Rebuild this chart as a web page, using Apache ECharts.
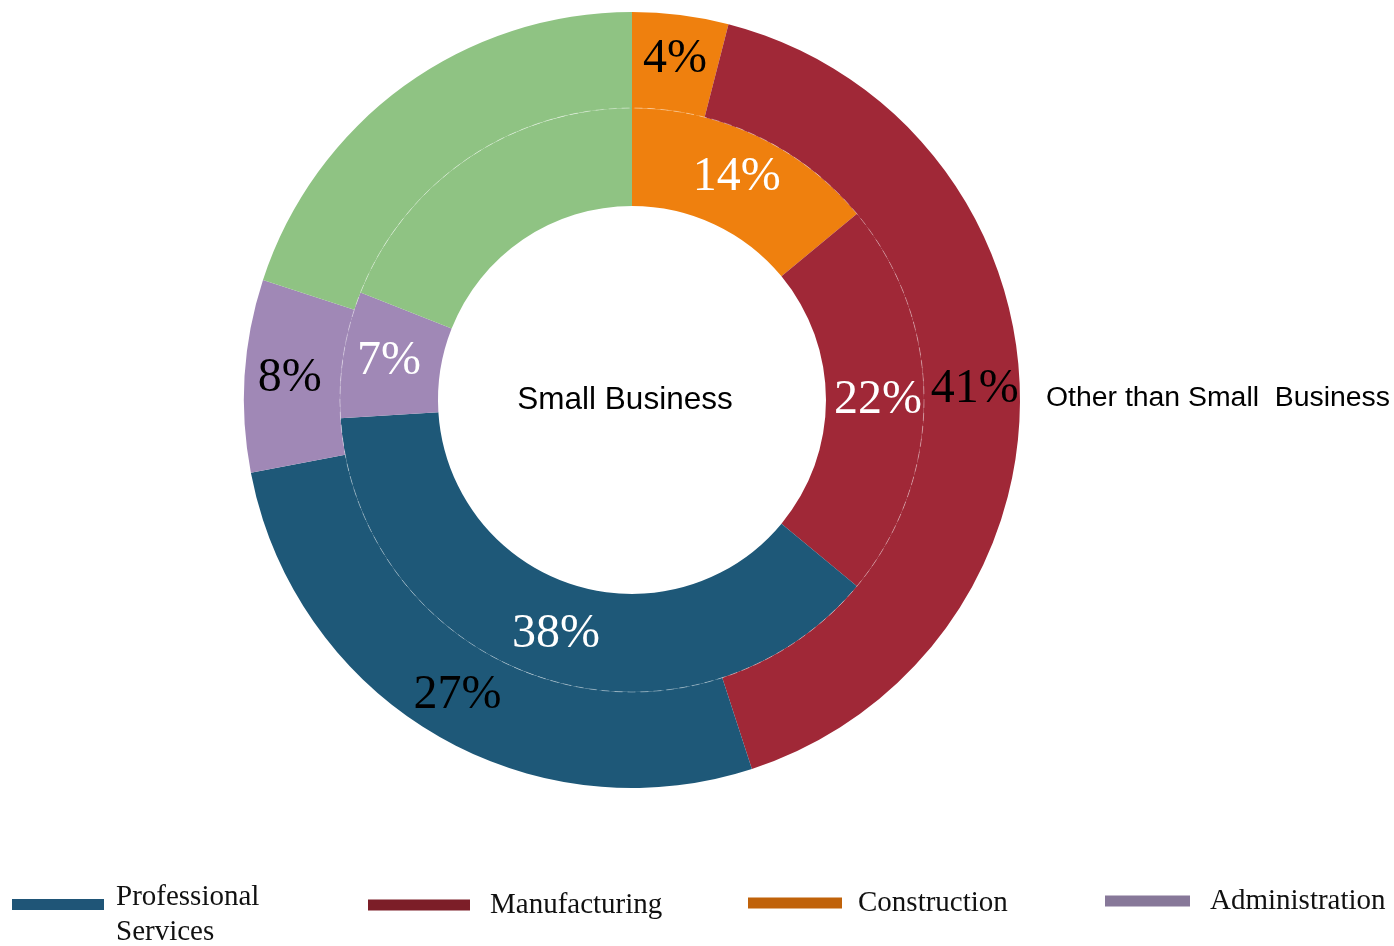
<!DOCTYPE html>
<html>
<head>
<meta charset="utf-8">
<title>Contract share by sector</title>
<script src="https://cdn.jsdelivr.net/npm/echarts@6/dist/echarts.min.js"></script>
<style>
  html, body { margin: 0; padding: 0; background: #ffffff; }
  #chart { width: 1394px; height: 946px; }
</style>
</head>
<body>
<div id="chart"></div>
<script>
// Sector categories, in drawing order (clockwise from 12 o'clock)
const categories = ['Construction', 'Manufacturing', 'Professional Services', 'Administration', 'Other'];

// Percent share per sector
const smallBusiness = [14, 22, 38, 7, 19];          // inner ring
const otherThanSmallBusiness = [4, 41, 27, 8, 20];  // outer ring

// Sectors listed in the legend, in legend order
const legendItems = ['Professional Services', 'Manufacturing', 'Construction', 'Administration'];

const sliceColors = {
  'Construction': '#EF800E',
  'Manufacturing': '#A02837',
  'Professional Services': '#1E5878',
  'Administration': '#A088B6',
  'Other': '#8FC383'
};
const legendColors = {
  'Professional Services': '#1F5577',
  'Manufacturing': '#7C1E28',
  'Construction': '#C0620A',
  'Administration': '#877899'
};

const serif = '"Liberation Serif", "Times New Roman", serif';
const sans = '"Liberation Sans", Arial, sans-serif';
const CENTER = [632, 400];

function ringData(values, labelColor) {
  return categories.map((name, i) => ({
    name: name,
    value: values[i],
    itemStyle: { color: sliceColors[name] },
    label: name === 'Other' ? { show: false } : { color: labelColor }
  }));
}

function ringSeries(seriesName, values, radius, labelColor) {
  return {
    type: 'pie',
    name: seriesName,
    center: CENTER,
    radius: radius,
    startAngle: 90,
    clockwise: true,
    silent: true,
    itemStyle: { borderWidth: 0 },
    label: {
      show: true,
      position: 'inside',
      formatter: '{c}%',
      fontFamily: serif,
      fontSize: 48,
      color: labelColor
    },
    labelLine: { show: false },
    emphasis: { disabled: true },
    data: ringData(values, labelColor)
  };
}

// one legend block per sector so each sits at its own spot along the bottom
const legendLayout = {
  'Professional Services': { left: 12, top: 859, itemWidth: 92, gap: 7 },
  'Manufacturing': { left: 368, top: 890, itemWidth: 102, gap: 15 },
  'Construction': { left: 748, top: 888, itemWidth: 94, gap: 11 },
  'Administration': { left: 1105, top: 886, itemWidth: 85, gap: 15 }
};

const legends = legendItems.map(name => {
  const lay = legendLayout[name];
  const multi = name === 'Professional Services';
  return {
    left: lay.left,
    top: lay.top,
    padding: 0,
    orient: 'horizontal',
    icon: 'rect',
    itemWidth: lay.itemWidth,
    itemHeight: 11,
    selectedMode: false,
    // the two-line label hangs below the swatch: a short spacer line sits on top
    formatter: n => (n === 'Professional Services'
      ? '{sp|}\n{t|Professional}\n{t|Services}'
      : n),
    textStyle: {
      fontFamily: serif,
      fontSize: 29,
      color: '#111111',
      lineHeight: 30,
      padding: [0, 0, 0, lay.gap],
      rich: {
        sp: { fontSize: 10, lineHeight: 21 },
        t: { fontFamily: serif, fontSize: 29, lineHeight: 35, color: '#111111' }
      }
    },
    data: [{ name: name, itemStyle: { color: legendColors[name] } }]
  };
});

const chart = echarts.init(document.getElementById('chart'), null, { renderer: 'canvas' });
chart.setOption({
  backgroundColor: '#ffffff',
  animation: false,
  legend: legends,
  series: [
    ringSeries('Small Business', smallBusiness, [194, 292], '#ffffff'),
    ringSeries('Other than Small Business', otherThanSmallBusiness, [292, 388], '#000000')
  ],
  graphic: [
    {
      type: 'circle',
      z: 100,
      silent: true,
      shape: { cx: CENTER[0], cy: CENTER[1], r: 292 },
      style: { fill: null, stroke: 'rgba(255,255,255,0.45)', lineWidth: 0.8, lineDash: [8, 5] }
    },
    {
      type: 'text',
      z: 100,
      x: 625,
      y: 400,
      style: {
        text: 'Small Business',
        fontFamily: sans,
        fontSize: 31.5,
        fill: '#000000',
        align: 'center',
        verticalAlign: 'middle'
      }
    },
    {
      type: 'text',
      z: 100,
      x: 1046,
      y: 398,
      style: {
        text: 'Other than Small  Business',
        fontFamily: sans,
        fontSize: 28.4,
        fill: '#000000',
        align: 'left',
        verticalAlign: 'middle'
      }
    }
  ]
});
</script>
</body>
</html>
